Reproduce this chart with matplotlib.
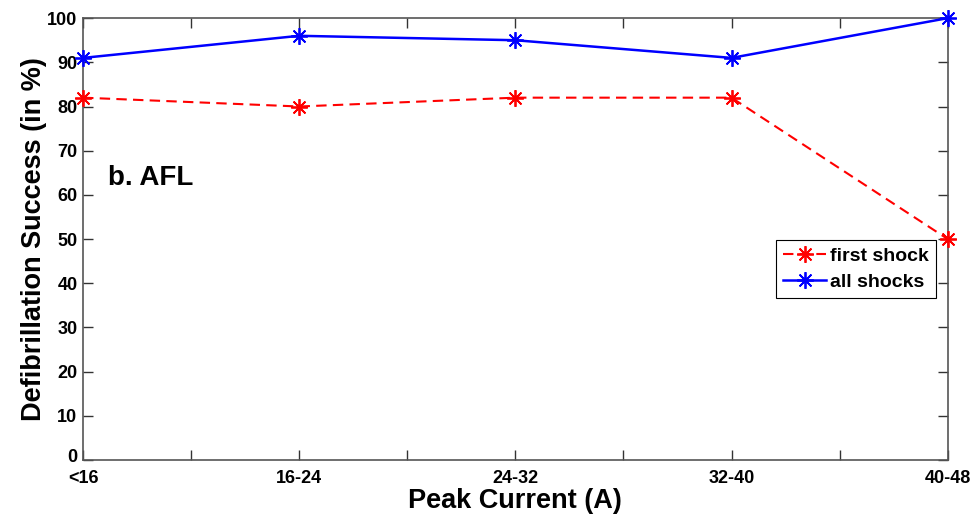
import matplotlib
matplotlib.use("Agg")
import matplotlib.pyplot as plt
import matplotlib.transforms as mtransforms
import numpy as np

plt.rcParams['font.family'] = ['Liberation Sans', 'DejaVu Sans']
plt.rcParams['font.weight'] = 'bold'

categories = ["<16", "16-24", "24-32", "32-40", "40-48"]
first_shock = [82, 80, 82, 82, 50]
all_shocks = [91, 96, 95, 91, 100]

fig = plt.figure(figsize=(9.77, 5.18), dpi=100)
ax = fig.add_axes([0.085, 0.112, 0.885, 0.853])

x = np.arange(len(categories))
star = (8, 2, 0)
ax.plot(x, first_shock, color='red', linestyle='--', linewidth=1.5, dashes=(5, 3),
        marker=star, markersize=12, markeredgewidth=1.3, label='first shock',
        clip_on=False, zorder=3)
ax.plot(x, all_shocks, color='blue', linestyle='-', linewidth=1.8,
        marker=star, markersize=12, markeredgewidth=1.3, label='all shocks',
        clip_on=False, zorder=3)

ax.set_xlim(0, len(categories) - 1)
ax.set_ylim(0, 100)
tick_pos = np.arange(0, len(categories) - 0.5, 0.5)
tick_lab = [categories[int(p)] if p == int(p) else "" for p in tick_pos]
ax.set_xticks(tick_pos)
ax.set_xticklabels(tick_lab)
ax.set_yticks(np.arange(0, 101, 10))

ax.tick_params(direction='in', length=7, width=1, colors='#333333',
               labelcolor='black', labelsize=13, top=True, right=True)
ax.tick_params(axis='x', pad=7)
ax.tick_params(axis='y', pad=4)
for lbl in ax.get_xticklabels() + ax.get_yticklabels():
    lbl.set_fontweight('bold')
# lift the bottom "0" a little so it clears the first category label
zero_lbl = ax.get_yticklabels()[0]
zero_lbl.set_transform(zero_lbl.get_transform() +
                       mtransforms.ScaledTranslation(0, 3 / 72, fig.dpi_scale_trans))
for sp in ax.spines.values():
    sp.set_color('#555555')
    sp.set_linewidth(1.2)

ax.set_xlabel("Peak Current (A)", fontsize=19.5, fontweight='bold', labelpad=1)
ax.set_ylabel("Defibrillation Success (in %)", fontsize=19.5, fontweight='bold', labelpad=0)

ax.text(0.029, 0.638, "b. AFL", transform=ax.transAxes, fontsize=20,
        fontweight='bold', va='center', ha='left')

leg = ax.legend(loc='upper left', bbox_to_anchor=(0.802, 0.497), fontsize=14,
                frameon=True, fancybox=False, edgecolor='black', framealpha=1,
                borderpad=0.35, labelspacing=0.45, handlelength=2.2, handletextpad=0.2,
                borderaxespad=0)
leg.get_frame().set_linewidth(0.8)
for t in leg.get_texts():
    t.set_fontweight('bold')

fig.savefig("out.png", dpi=100)
